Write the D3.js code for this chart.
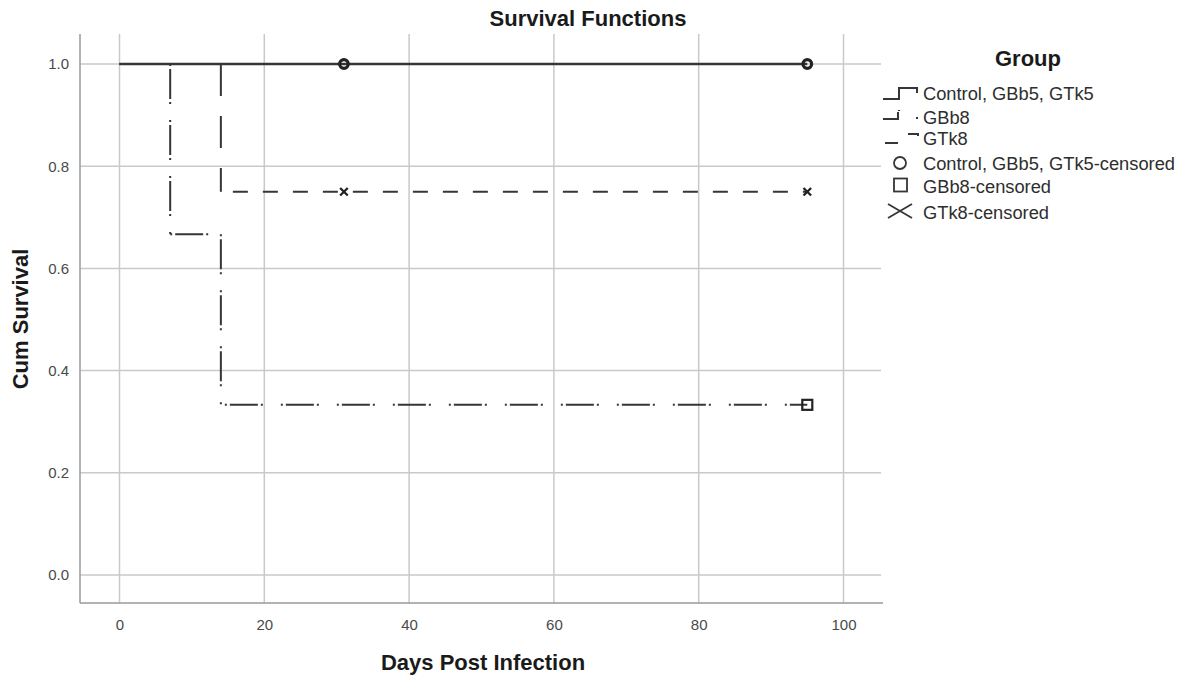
<!DOCTYPE html>
<html>
<head>
<meta charset="utf-8">
<script src="https://cdn.jsdelivr.net/npm/d3@7/dist/d3.min.js"></script>
<style>
  html, body { margin: 0; padding: 0; background: #fff; }
  svg { display: block; font-family: "Liberation Sans", Arial, sans-serif; }
</style>
</head>
<body>
<svg id="chart" width="1180" height="679"></svg>
<script>
// Kaplan-Meier survival estimates per group
const groups = ["Control, GBb5, GTk5", "GBb8", "GTk8"];
const eventDays = [[], [7, 14], [14]];
const survivalAfter = [[], [0.667, 0.333], [0.75]];
const censorDays = [[31, 95], [95], [31, 95]];
const followUpEnd = 95;

const xTicks = [0, 20, 40, 60, 80, 100];
const yTicks = [0.0, 0.2, 0.4, 0.6, 0.8, 1.0];
const legendLabels = ["Control, GBb5, GTk5", "GBb8", "GTk8",
  "Control, GBb5, GTk5-censored", "GBb8-censored", "GTk8-censored"];

const svg = d3.select("#chart");
const x = d3.scaleLinear().domain([0, 100]).range([119.5, 843.5]);
const y = d3.scaleLinear().domain([0, 1]).range([575, 64]);

const plotLeft = 80, plotRight = 883, plotTop = 34, plotBottom = 603;
const ink = "#363636";

// grid
const grid = svg.append("g");
grid.selectAll("line.h").data(yTicks).join("line")
  .attr("x1", plotLeft).attr("x2", plotRight - 2)
  .attr("y1", d => y(d)).attr("y2", d => y(d))
  .attr("stroke", "#c9c9c9").attr("stroke-width", 1.5);
grid.selectAll("line.v").data(xTicks).join("line")
  .attr("x1", d => x(d)).attr("x2", d => x(d))
  .attr("y1", plotTop).attr("y2", plotBottom)
  .attr("stroke", "#c9c9c9").attr("stroke-width", 1.5);

// axes (lines only, labels without tick marks)
const xAxis = d3.axisBottom(x).tickValues(xTicks).tickSize(0).tickPadding(16).tickFormat(d3.format("d"));
const yAxis = d3.axisLeft(y).tickValues(yTicks).tickSize(0).tickPadding(11).tickFormat(d3.format(".1f"));
const gx = svg.append("g").attr("transform", `translate(0,${plotBottom})`).call(xAxis);
const gy = svg.append("g").attr("transform", `translate(${plotLeft},0)`).call(yAxis);
[gx, gy].forEach(g => {
  g.select(".domain").remove();
  g.selectAll("text").attr("font-size", 15).attr("fill", "#4a4a4a")
    .attr("font-family", "Liberation Sans, Arial, sans-serif");
});
svg.append("line").attr("x1", plotLeft).attr("x2", plotLeft).attr("y1", plotTop).attr("y2", plotBottom)
  .attr("stroke", "#9a9a9a").attr("stroke-width", 1.5);
svg.append("line").attr("x1", plotLeft).attr("x2", plotRight).attr("y1", plotBottom).attr("y2", plotBottom)
  .attr("stroke", "#9a9a9a").attr("stroke-width", 1.5);

// step segments for each group
function stepSegments(gi) {
  const segs = [];
  let t0 = 0, s = 1;
  eventDays[gi].forEach((t, k) => {
    segs.push({ kind: "h", x1: t0, x2: t, y1: s, y2: s });
    const s2 = survivalAfter[gi][k];
    segs.push({ kind: "v", x1: t, x2: t, y1: s, y2: s2 });
    t0 = t; s = s2;
  });
  segs.push({ kind: "h", x1: t0, x2: followUpEnd, y1: s, y2: s });
  return segs;
}

const styles = [
  { h: null, v: null, width: 2.5 },
  { h: "2,3,28,3,2,18", v: "2,3,30,3,2,16", width: 2 },
  { h: "15,15", v: "32,20", width: 2 }
];

const lines = svg.append("g");
// draw dashed groups first so the solid curve sits on top
[1, 2, 0].forEach(gi => {
  const st = styles[gi];
  lines.append("g").selectAll("line").data(stepSegments(gi)).join("line")
    .attr("x1", d => x(d.x1)).attr("x2", d => x(d.x2))
    .attr("y1", d => y(d.y1)).attr("y2", d => y(d.y2))
    .attr("stroke", ink).attr("stroke-width", st.width)
    .attr("stroke-dasharray", d => d.kind === "h" ? st.h : st.v)
    .attr("stroke-dashoffset", d => (gi === 1 && d.kind === "h" && d.x1 > 10) ? -4 : (gi === 2 && d.kind === "h" && d.x1 > 10 ? -12 : 0));
});

// censored marks
function survAt(gi, t) {
  let s = 1;
  eventDays[gi].forEach((e, k) => { if (e <= t) s = survivalAfter[gi][k]; });
  return s;
}
const marks = svg.append("g").attr("fill", "none").attr("stroke", "#222");
marks.selectAll("circle").data(censorDays[0]).join("circle")
  .attr("cx", d => x(d)).attr("cy", d => y(survAt(0, d))).attr("r", 4.3).attr("stroke-width", 3.2);
marks.selectAll("rect").data(censorDays[1]).join("rect")
  .attr("x", d => x(d) - 5).attr("y", d => y(survAt(1, d)) - 5)
  .attr("width", 10).attr("height", 10).attr("stroke-width", 2.2);
marks.selectAll("path.x").data(censorDays[2]).join("path")
  .attr("d", d => { const cx = x(d), cy = y(survAt(2, d)), r = 3.8;
    return `M${cx - r},${cy - r}L${cx + r},${cy + r}M${cx - r},${cy + r}L${cx + r},${cy - r}`; })
  .attr("stroke-width", 2.3);

// titles
svg.append("text").attr("x", 588).attr("y", 26).attr("text-anchor", "middle")
  .attr("font-size", 22).attr("font-weight", "bold").attr("fill", "#1a1a1a").text("Survival Functions");
svg.append("text").attr("x", 483).attr("y", 670).attr("text-anchor", "middle")
  .attr("font-size", 22).attr("font-weight", "bold").attr("fill", "#1a1a1a").text("Days Post Infection");
svg.append("text").attr("transform", "translate(28,319) rotate(-90)").attr("text-anchor", "middle")
  .attr("font-size", 22).attr("font-weight", "bold").attr("fill", "#1a1a1a").text("Cum Survival");

// legend
const lg = svg.append("g");
lg.append("text").attr("x", 1028).attr("y", 66).attr("text-anchor", "middle")
  .attr("font-size", 22).attr("font-weight", "bold").attr("fill", "#1a1a1a").text("Group");
const rowY = [93, 117, 138, 163, 186, 212];
lg.selectAll("text.item").data(legendLabels).join("text")
  .attr("class", "item").attr("x", 923).attr("y", (d, i) => rowY[i] + 6.5)
  .attr("font-size", 18.3).attr("fill", "#2e2e2e").text(d => d);

const sym = lg.append("g").attr("fill", "none").attr("stroke", ink).attr("stroke-width", 2);
sym.append("path").attr("d", `M883,${rowY[0] + 6}H899V${rowY[0] - 5}H917V${rowY[0]}`);
sym.append("path").attr("d", `M883,${rowY[1] + 2}H898V${rowY[1] - 5}`);
sym.append("path").attr("d", `M899,${rowY[1] - 7}V${rowY[1] - 6}`).attr("stroke-width", 2.2);
sym.append("path").attr("d", `M916,${rowY[1] + 1}H918`).attr("stroke-width", 2.2);
sym.append("path").attr("d", `M885,${rowY[2] + 5}H898`);
sym.append("path").attr("d", `M908,${rowY[2] - 4}H918V${rowY[2] - 2}`);
sym.append("circle").attr("cx", 900).attr("cy", rowY[3]).attr("r", 6).attr("stroke-width", 1.8);
sym.append("rect").attr("x", 894).attr("y", rowY[4] - 7.5).attr("width", 13).attr("height", 13).attr("stroke-width", 1.8);
sym.append("path").attr("d", `M888,${rowY[5] - 8}L912,${rowY[5] + 6}M888,${rowY[5] + 6}L912,${rowY[5] - 8}`).attr("stroke-width", 1.8);
</script>
</body>
</html>
